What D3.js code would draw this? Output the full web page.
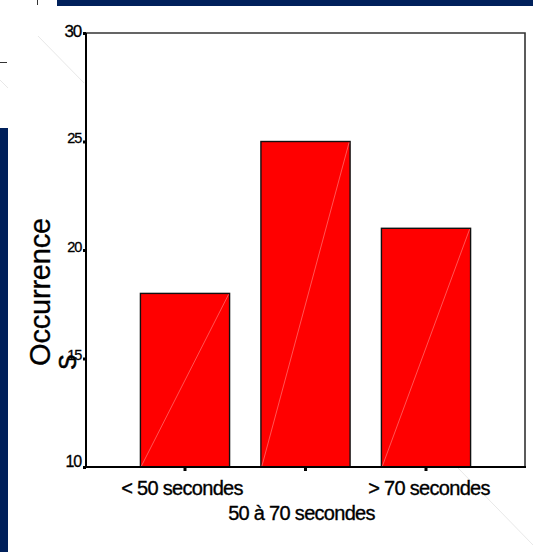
<!DOCTYPE html>
<html><head><meta charset="utf-8">
<script src="https://cdn.jsdelivr.net/npm/d3@7"></script>
<style>body{margin:0;background:#fff}svg{display:block}text{font-family:"Liberation Sans",Arial,sans-serif;fill:#000}</style>
</head><body>
<script>
const categories = ["< 50 secondes", "50 à 70 secondes", "> 70 secondes"];
const values = [18, 25, 21];
const yTicks = [10, 15, 20, 25, 30];
const yTitle = "Occurrence";

const W = 533, H = 552;
const svg = d3.select("body").append("svg").attr("width", W).attr("height", H);

// decorations
svg.append("rect").attr("x", 57).attr("y", 0).attr("width", W - 57).attr("height", 6).attr("fill", "#00205b");
svg.append("rect").attr("x", 0).attr("y", 128).attr("width", 8).attr("height", H - 128).attr("fill", "#00205b");
svg.append("line").attr("x1", 37.5).attr("x2", 37.5).attr("y1", 0).attr("y2", 5).attr("stroke", "#333");
svg.append("line").attr("x1", 0).attr("x2", 7).attr("y1", 62.5).attr("y2", 62.5).attr("stroke", "#333");
[[38,36,84,83],[0,80,8,88],[458,468,533,545]].forEach(d=>{
  svg.append("line").attr("x1",d[0]).attr("y1",d[1]).attr("x2",d[2]).attr("y2",d[3]).attr("stroke","#e8e8e8").attr("stroke-width",1);
});

const L = 86, R = 525, T = 33, B = 467;
const y = d3.scaleLinear().domain([10, 30]).range([B, T]);
const x = d3.scaleBand().domain(categories).range([124.75, 486.25]).paddingInner(0.26).paddingOuter(0.13);

// frame top & right
svg.append("path").attr("d", `M${L},${T}H${R}V${B}`).attr("fill", "none").attr("stroke", "#333").attr("stroke-width", 1.6);

// bars
const g = svg.append("g");
categories.forEach((c, i) => {
  const x0 = x(c), w = x.bandwidth(), y0 = y(values[i]);
  g.append("rect").attr("x", x0).attr("y", y0).attr("width", w).attr("height", B - y0)
    .attr("fill", "#ff0000").attr("stroke", "#111").attr("stroke-width", 1.4);
  g.append("line").attr("x1", x0 + 1).attr("y1", B - 1).attr("x2", x0 + w - 1).attr("y2", y0 + 1)
    .attr("stroke", "#ff6a6a").attr("stroke-width", 0.8);
});

// y axis
const yAxis = svg.append("g").attr("transform", `translate(${L},0)`)
  .call(d3.axisLeft(y).tickValues(yTicks).tickSize(3).tickPadding(2).tickFormat(d3.format("d")));
yAxis.attr("font-size", null).attr("font-family", null);
yAxis.select(".domain").attr("stroke", "#000").attr("stroke-width", 2).attr("d", `M0,${T}V${B+1}`);
yAxis.selectAll(".tick line").attr("stroke", "#000").attr("stroke-width", 3);
yAxis.selectAll(".tick text")
  .style("font-size", d => (d === 30 ? 17 : d === 10 ? 16 : 14.5) + "px").style("letter-spacing", "-1.2px").attr("fill", "#000")
  .attr("stroke", "#000").attr("stroke-width", 0.3)
  .attr("dy", d => d === 30 ? "0.2em" : d === 10 ? "-0.05em" : "0.1em");

// x axis
const xAxis = svg.append("g").attr("transform", `translate(0,${B})`)
  .call(d3.axisBottom(x).tickSize(4).tickFormat(""));
xAxis.select(".domain").attr("stroke", "#000").attr("stroke-width", 2).attr("d", `M${L-2},0H${R+1}`);
xAxis.selectAll(".tick line").attr("stroke", "#000").attr("stroke-width", 3);

// category labels (staggered)
const labelY = [495, 520, 495];
categories.forEach((c, i) => {
  svg.append("text").attr("x", x(c) + x.bandwidth() / 2 + (i === 1 ? -4 : i === 2 ? 3 : -3)).attr("y", labelY[i])
    .attr("text-anchor", "middle").style("font-size", "20px").style("letter-spacing", "-0.7px")
    .attr("stroke", "#000").attr("stroke-width", 0.35).text(c);
});

// y title
svg.append("text").attr("transform", "translate(50,292) rotate(-90)").attr("text-anchor", "middle")
  .style("font-size", "29px").style("letter-spacing", "-0.2px").attr("stroke", "#000").attr("stroke-width", 0.3).text(yTitle);
svg.append("text").attr("transform", "translate(76,362) rotate(-90)").attr("text-anchor", "middle")
  .style("font-size", "23px").attr("stroke", "#000").attr("stroke-width", 0.6).text("S");
</script>
</body></html>
